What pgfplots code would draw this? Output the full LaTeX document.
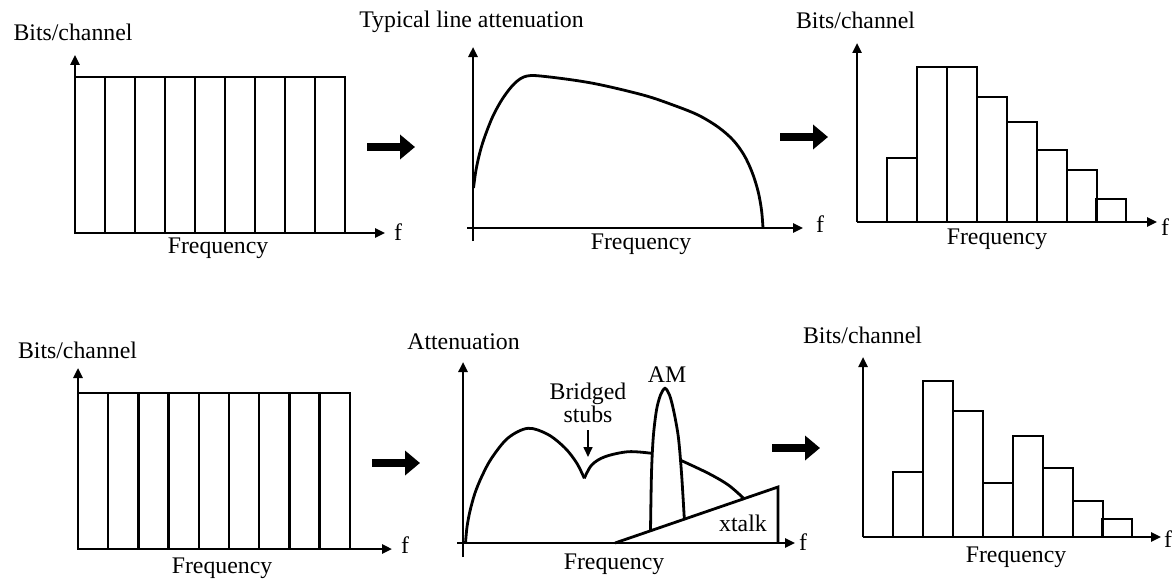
\documentclass[border=0pt]{standalone}
\usepackage{fontspec}
\setmainfont{Liberation Serif}
\usepackage{pgfplots}
\pgfplotsset{compat=1.18}
\usetikzlibrary{arrows.meta}

% common look of the six sketches: bare arrowed axes, no ticks
\pgfplotsset{
  panel/.style={
    x=0.5pt, y=0.5pt, xmin=0, ymin=0,
    axis x line=bottom, axis y line=left,
    axis line style={line width=1.2pt, -{Triangle[length=5pt,width=4.5pt]}},
    xtick=\empty, ytick=\empty, clip=false, anchor=origin,
  },
  trace/.style={black, line width=1.4pt, mark=none},
  channel/.style={ybar, bar width=30, fill=white, draw=black, line width=1.25pt},
  bigarrow/.style={black, line width=3.6pt, -{Triangle[length=7.5pt,width=12pt]}},
}

\begin{document}
\begin{tikzpicture}[font=\fontsize{11.9}{14}\selectfont]
\path[use as bounding box] (0,0) rectangle (586pt,290pt);

% ---------- top row ----------
% flat bit loading
\begin{axis}[panel, at={(37.5pt,173.5pt)}, xmax=310, ymax=178]
  \addplot[channel] coordinates {(15,156) (45,156) (75,156) (105,156) (135,156) (165,156) (195,156) (225,156) (255,156)};
  \addplot[bigarrow] coordinates {(292,86) (340,86)};
  \node at (axis cs:-2,201) {Bits/channel};
  \node at (axis cs:143,-15) {Frequency};
  \node at (axis cs:323,1) {f};
\end{axis}

% typical line attenuation
\begin{axis}[panel, at={(236.5pt,176pt)}, xmax=330, ymax=181]
  \addplot[trace] coordinates {(0,-13) (0,0)};
  \addplot[trace] coordinates {(-6,0) (0,0)};
  \addplot[trace, smooth, tension=0.55] coordinates {
    (0.5,40) (3,58) (7,76) (12,92) (20,112) (30,130) (42,145) (54,152) (74,151.3)
    (120,144.7) (170,133) (200,123) (225,113) (245,101) (260,88) (271,73)
    (279,56) (285,37) (288.5,18) (290,0)};
  \addplot[bigarrow] coordinates {(307,91) (355,91)};
  \node at (axis cs:-1.5,206) {Typical line attenuation};
  \node at (axis cs:168,-16) {Frequency};
  \node at (axis cs:347,4) {f};
\end{axis}

% resulting bit loading
\begin{axis}[panel, at={(428.5pt,179pt)}, xmax=300, ymax=179]
  \addplot[channel] coordinates {(45,64) (75,155) (105,155) (135,125) (165,100) (195,72) (225,52) (254,23)};
  \node at (axis cs:-1.5,202) {Bits/channel};
  \node at (axis cs:140,-17) {Frequency};
  \node at (axis cs:308,-5) {f};
\end{axis}

% ---------- bottom row ----------
% flat bit loading
\begin{axis}[panel, at={(39pt,15.5pt)}, xmax=314, ymax=181]
  \addplot[channel, bar width=30.2] coordinates {(15.1,156) (45.3,156) (75.5,156) (105.7,156) (135.9,156) (166.1,156) (196.3,156) (226.5,156) (256.7,156)};
  \addplot[bigarrow] coordinates {(294,86) (342,86)};
  \node at (axis cs:-0.5,199) {Bits/channel};
  \node at (axis cs:144,-19) {Frequency};
  \node at (axis cs:327,4) {f};
\end{axis}

% attenuation with bridged taps, AM ingress and crosstalk
\begin{axis}[panel, at={(231.5pt,18.5pt)}, xmax=332, ymax=181]
  \addplot[trace] coordinates {(0,-14) (0,0)};
  \addplot[trace] coordinates {(-6,0) (0,0)};
  \addplot[trace, smooth, tension=0.55] coordinates {
    (2.5,0) (4,16) (7,32) (12,50) (19,67) (28.7,85) (45,105) (65,114.7)
    (85,108.5) (102,95) (113.7,80) (121.3,64.7)};
  \addplot[trace, smooth, tension=0.55] coordinates {
    (121.3,64.7) (128.7,78) (142,86.3) (165.3,91.3) (188.5,89.7)};
  \addplot[trace, smooth, tension=0.55] coordinates {
    (217.5,82.8) (245.3,69.7) (265.3,58) (280.3,45)};
  % AM spike
  \addplot[trace, smooth, tension=0.5] coordinates {
    (187.5,12.5) (188.5,70) (190.3,106.3) (193.5,133) (197.5,148) (202,154.7) (206.5,148) (210.5,133) (215.3,106.3) (218.5,70) (221.3,24.5)};
  % crosstalk wedge
  \addplot[trace] coordinates {(152,0) (315,56) (315,0)};
  % bridged-stub pointer
  \addplot[black, line width=0.8pt, -{Triangle[length=5pt,width=4.5pt]}] coordinates {(125,113) (125,86)};
  \addplot[bigarrow] coordinates {(309,95) (357,95)};
  \node at (axis cs:0.5,201) {Attenuation};
  \node at (axis cs:204,168) {AM};
  \node at (axis cs:125,149) {Bridged};
  \node at (axis cs:125,129) {stubs};
  \node at (axis cs:280,20) {xtalk};
  \node at (axis cs:151,-21) {Frequency};
  \node at (axis cs:340,1) {f};
\end{axis}

% resulting bit loading
\begin{axis}[panel, at={(431.5pt,21.5pt)}, xmax=298, ymax=180]
  \addplot[channel] coordinates {(45,65) (75,156) (105,126) (135,54) (165,101) (195,69) (225,36) (254,18)};
  \node at (axis cs:-0.5,202) {Bits/channel};
  \node at (axis cs:153,-20) {Frequency};
  \node at (axis cs:305,-2) {f};
\end{axis}
\end{tikzpicture}
\end{document}
